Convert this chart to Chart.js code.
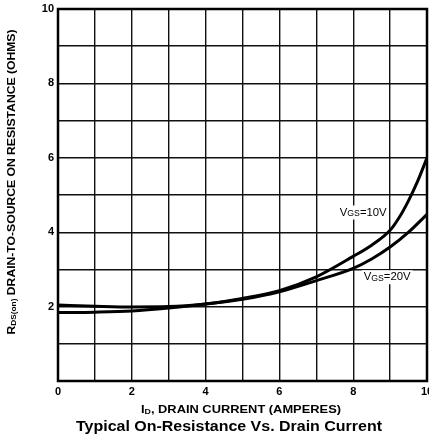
<!DOCTYPE html>
<html><head><meta charset="utf-8">
<script src="https://cdn.jsdelivr.net/npm/chart.js@4"></script>
<style>html,body{margin:0;padding:0;background:#fff}#wrap{width:429px;height:440px}</style>
</head><body><div id="wrap"><canvas id="c" width="429" height="440"></canvas></div>
<script>
const xVals10 = [0, 1, 2, 3, 4, 5, 6, 7, 8, 8.5, 9, 9.25, 9.5, 9.75, 10];
const vgs10   = [1.84, 1.85, 1.88, 1.96, 2.07, 2.22, 2.43, 2.8, 3.35, 3.65, 4.05, 4.4, 4.85, 5.38, 6.0];
const xVals20 = [0, 1, 2, 3, 4, 5, 6, 7, 8, 8.5, 9, 9.5, 10];
const vgs20   = [2.04, 2.01, 1.99, 2.0, 2.07, 2.2, 2.4, 2.7, 3.03, 3.28, 3.6, 4.0, 4.48];
const xTickLabels = ['0', '2', '4', '6', '8', '10'];
const yTickLabels = ['2', '4', '6', '8', '10'];
const curveLabels = [{sub: 'GS', text: '=10V', x: 8.27, y: 4.53}, {sub: 'GS', text: '=20V', x: 8.92, y: 2.79}];
const titleText = 'Typical On-Resistance Vs. Drain Current';
const xTitle = ['I', 'D', ', DRAIN CURRENT (AMPERES)'];
const yTitle = ['R', 'DS(on)', ' DRAIN-TO-SOURCE ON RESISTANCE (OHMS)'];

const FONT = '"Liberation Sans", Arial, sans-serif';

function pts(xs, ys) { return xs.map((x, i) => ({x, y: ys[i]})); }

function drawParts(ctx, parts, big, small, weight, target, subDrop) {
  ctx.font = weight + ' ' + big + 'px ' + FONT; const w1 = ctx.measureText(parts[0]).width;
  ctx.font = weight + ' ' + small + 'px ' + FONT; const w2 = ctx.measureText(parts[1]).width;
  ctx.font = weight + ' ' + big + 'px ' + FONT; const w3 = ctx.measureText(parts[2]).width;
  const total = w1 + w2 + w3;
  const k = target ? target / total : 1;
  ctx.save();
  ctx.scale(k, 1);
  let x = -total / 2;
  ctx.textBaseline = 'middle'; ctx.textAlign = 'left';
  ctx.font = weight + ' ' + big + 'px ' + FONT; ctx.fillText(parts[0], x, 0); x += w1;
  ctx.font = weight + ' ' + small + 'px ' + FONT; ctx.fillText(parts[1], x, subDrop); x += w2;
  ctx.font = weight + ' ' + big + 'px ' + FONT; ctx.fillText(parts[2], x, 0);
  ctx.restore();
  return total * k;
}

const decor = {
  id: 'decor',
  afterDatasetsDraw(chart) {
    const ctx = chart.ctx;
    const xs = chart.scales.x, ys = chart.scales.y;
    ctx.save();
    curveLabels.forEach(l => {
      const px = xs.getPixelForValue(l.x), py = ys.getPixelForValue(l.y);
      const tw = 47;
      ctx.fillStyle = '#fff';
      ctx.fillRect(px - tw / 2 - 2, py - 7, tw + 4, 14);
      ctx.fillStyle = '#000';
      ctx.save();
      ctx.translate(px, py);
      drawParts(ctx, ['V', l.sub, l.text], 11, 8.5, 'normal', tw, 1);
      ctx.restore();
    });
    ctx.restore();
  },
  afterDraw(chart) {
    const ctx = chart.ctx;
    const a = chart.chartArea;
    ctx.save();
    ctx.fillStyle = '#000';
    ctx.save();
    ctx.translate(241, 410);
    drawParts(ctx, xTitle, 11, 7.5, 'bold', 200, 2);
    ctx.restore();
    ctx.save();
    ctx.translate(229, 427);
    ctx.font = 'bold 14px ' + FONT;
    const tw = ctx.measureText(titleText).width;
    ctx.scale(306 / tw, 1);
    ctx.textAlign = 'center'; ctx.textBaseline = 'middle';
    ctx.fillText(titleText, 0, 0);
    ctx.restore();
    ctx.save();
    ctx.translate(12, 182);
    ctx.rotate(-Math.PI / 2);
    drawParts(ctx, yTitle, 11, 7.5, 'bold', 305, 2);
    ctx.restore();
    ctx.restore();
    ctx.save();
    ctx.strokeStyle = '#000'; ctx.lineWidth = 2.5;
    ctx.strokeRect(a.left, a.top, a.right - a.left, a.bottom - a.top);
    ctx.restore();
  }
};

new Chart(document.getElementById('c'), {
  type: 'line',
  data: {
    datasets: [
      {label: 'VGS=10V', data: pts(xVals10, vgs10), borderColor: '#000', borderWidth: 3, pointRadius: 0, cubicInterpolationMode: 'monotone', fill: false},
      {label: 'VGS=20V', data: pts(xVals20, vgs20), borderColor: '#000', borderWidth: 3, pointRadius: 0, cubicInterpolationMode: 'monotone', fill: false}
    ]
  },
  options: {
    responsive: false,
    animation: false,
    events: [],
    layout: {padding: {top: 9, right: 2, left: 0, bottom: 0}},
    plugins: {legend: {display: false}, tooltip: {enabled: false}, title: {display: false}},
    scales: {
      x: {
        type: 'linear', min: 0, max: 10,
        afterFit(s) { s.height = 59; s.paddingLeft = 0; s.paddingRight = 0; },
        grid: {color: '#111', lineWidth: 1.4, drawTicks: false},
        border: {display: false},
        ticks: {stepSize: 1, padding: 4, color: '#000', font: {family: FONT, size: 11, weight: 'bold'},
          autoSkip: false, maxRotation: 0,
          callback: v => (v % 2 === 0 ? xTickLabels[v / 2] : '')}
      },
      y: {
        min: 0, max: 10,
        afterFit(s) { s.width = 58; s.paddingTop = 0; s.paddingBottom = 0; },
        grid: {color: '#111', lineWidth: 1.4, drawTicks: false},
        border: {display: false},
        ticks: {stepSize: 1, padding: 4, color: '#000', font: {family: FONT, size: 11, weight: 'bold'},
          autoSkip: false,
          callback: v => (v % 2 === 0 && v > 0 ? yTickLabels[v / 2 - 1] : '')}
      }
    }
  },
  plugins: [decor]
});
</script>
</body></html>
